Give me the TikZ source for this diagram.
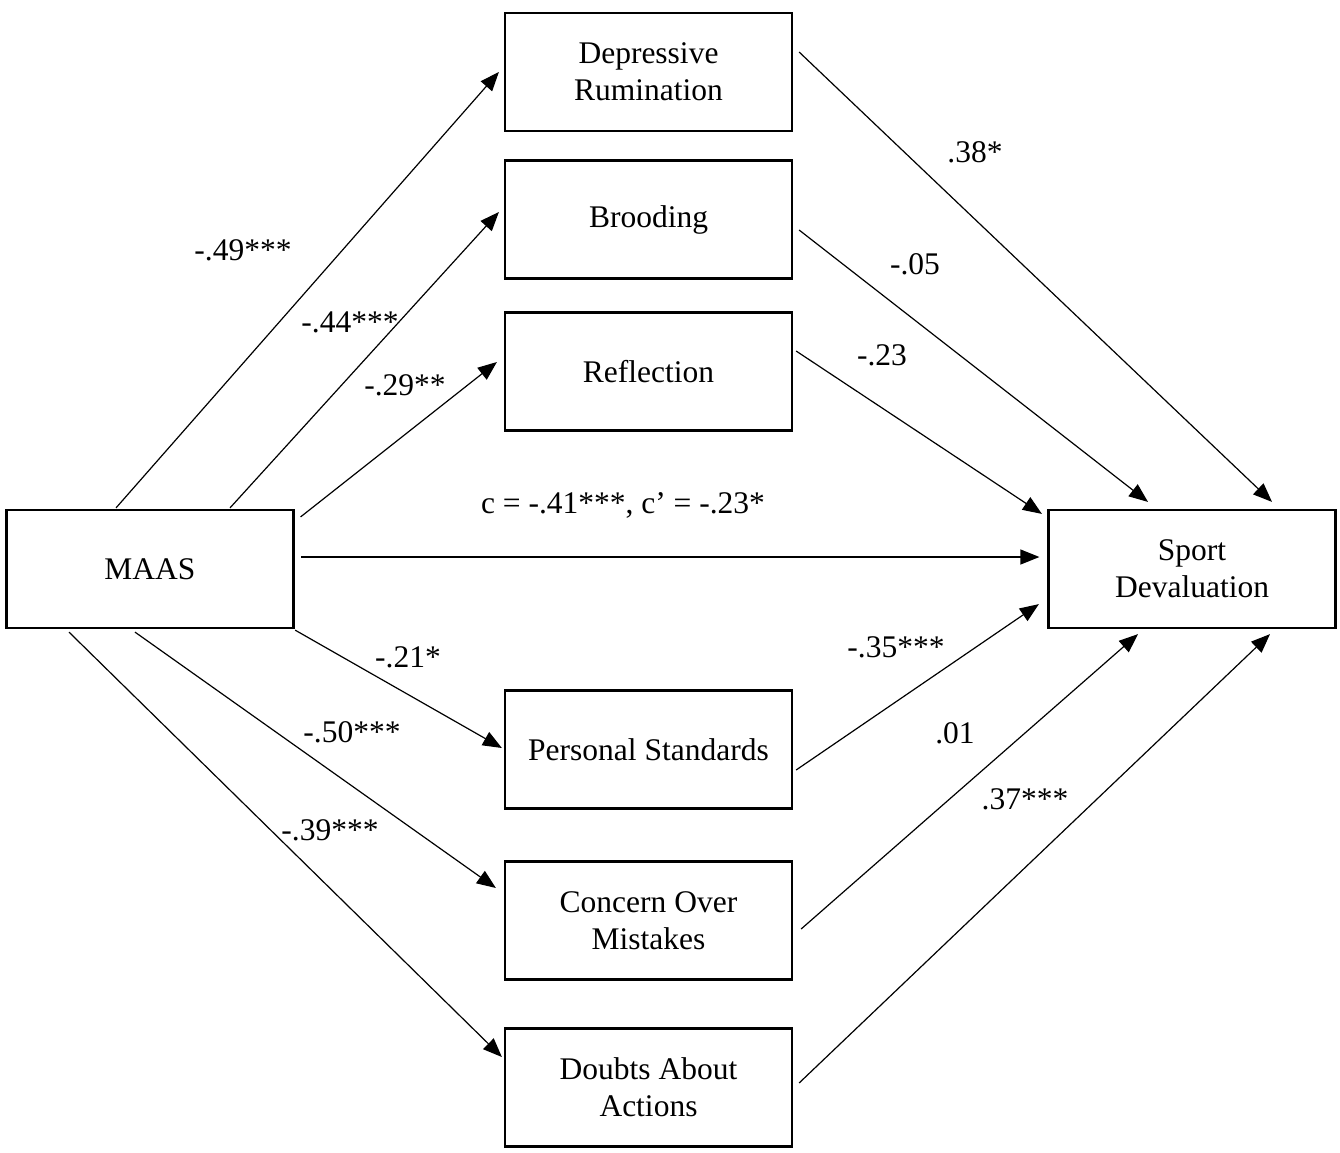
\documentclass[tikz,border=0pt]{standalone}
\usepackage{fontspec}
\setmainfont{Liberation Serif}
\usetikzlibrary{arrows.meta,calc}
\begin{document}
\begin{tikzpicture}[x=1pt,y=-1pt,
  box/.style={draw,line width=2.2pt,minimum width=287pt,minimum height=118pt,inner sep=0pt,align=center,font=\fontsize{31.5}{37}\selectfont},
  lab/.style={font=\fontsize{31.5}{37}\selectfont,inner sep=0pt},
  arr/.style={line width=1.2pt,-{Triangle[length=19pt,width=15pt]}}]
\useasboundingbox[fill=white] (0,0) rectangle (1340,1152);
\node[box] (dr) at (648.5,72) {Depressive\\Rumination};
\node[box] (br) at (648.5,219.5) {Brooding};
\node[box] (re) at (648.5,371.5) {Reflection};
\node[box] (ma) at (150,569) {MAAS};
\node[box] (sd) at (1192,569) {Sport\\Devaluation};
\node[box] (ps) at (648.5,749.5) {Personal Standards};
\node[box] (cm) at (648.5,920.5) {Concern Over\\Mistakes};
\node[box] (da) at (648.5,1087.5) {Doubts About\\Actions};
% MAAS to mediators
\draw[arr] ($(ma.north)+(-34,-1)$) -- ($(dr.west)+(-5,0)$);
\draw[arr] ($(ma.north)+(80,-1)$) -- ($(br.west)+(-5,-7.5)$);
\draw[arr] ($(ma.north east)+(6,8)$) -- ($(re.west)+(-7,-9.5)$);
\draw[arr] ($(ma.east)+(6.5,-12)$) -- ($(sd.west)+(-8,-12)$);
\draw[arr] ($(ma.south east)+(0.5,1)$) -- ($(ps.west)+(-2,-1.5)$);
\draw[arr] ($(ma.south)+(-15,3)$) -- ($(cm.west)+(-8,-32.5)$);
\draw[arr] ($(ma.south)+(-81,3)$) -- ($(da.west)+(-2,-30.5)$);
% mediators to Sport Devaluation
\draw[arr] ($(dr.east)+(6,-20)$) -- ($(sd.north)+(80,-7)$);
\draw[arr] ($(br.east)+(6,10.5)$) -- ($(sd.north)+(-44,-7)$);
\draw[arr] ($(re.east)+(3,-20.5)$) -- ($(sd.north west)+(-5.5,5)$);
\draw[arr] ($(ps.east)+(3,20.5)$) -- ($(sd.south west)+(-8.5,-25)$);
\draw[arr] ($(cm.east)+(8,8.5)$) -- ($(sd.south)+(-54,5)$);
\draw[arr] ($(da.east)+(6,-4.5)$) -- ($(sd.south)+(78,5)$);
% labels
\node[lab] (l1) at (243,250) {-.49***};
\node[lab] (l2) at (350,322) {-.44***};
\node[lab] (l3) at (405,385) {-.29**};
\node[lab] (l4) at (623,505) {c = -.41***, c’ = -.23*};
\node[lab] (l5) at (975,152) {.38*};
\node[lab] (l6) at (915,264) {-.05};
\node[lab] (l7) at (882,355) {-.23};
\node[lab] (l8) at (408,657) {-.21*};
\node[lab] (l9) at (352,732) {-.50***};
\node[lab] (l10) at (330,830) {-.39***};
\node[lab] (l11) at (896,647) {-.35***};
\node[lab] (l12) at (955,733) {.01};
\node[lab] (l13) at (1025,799) {.37***};
\end{tikzpicture}
\end{document}
